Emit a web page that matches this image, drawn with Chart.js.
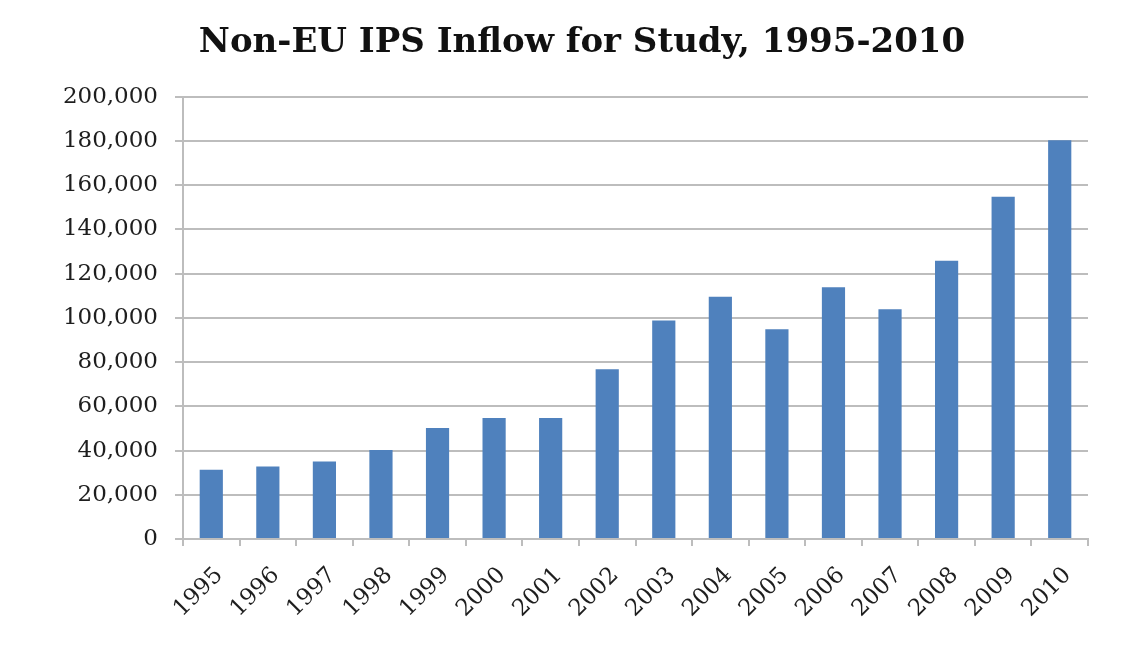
<!DOCTYPE html>
<html>
<head>
<meta charset="utf-8">
<script src="https://cdn.jsdelivr.net/npm/chart.js@4"></script>
<style>
  html, body { margin: 0; padding: 0; background: #fff; }
  #wrap { width: 1144px; height: 672px; }
</style>
</head>
<body>
<div id="wrap"><canvas id="chart"></canvas></div>
<script>
const years = ['1995', '1996', '1997', '1998', '1999', '2000', '2001', '2002',
  '2003', '2004', '2005', '2006', '2007', '2008', '2009', '2010']
const inflow = [31300, 32800, 35100, 40300, 50200, 54700, 54700, 76800,
  98800, 109600, 94900, 113900, 103900, 125900, 154800, 180400]
const yMax = 200000
const yStep = 20000

const BAR_COLOR = '#4F81BD'
const GRID_COLOR = '#BDBDBD'
const TEXT_COLOR = '#1e1e1e'
const FONT = '"DejaVu Serif", serif'

// the original title sits a little right of the canvas centre
const titleShift = {
  id: 'titleShift',
  afterLayout(chart) {
    const t = chart.titleBlock
    if (!t) return
    t.left += 38
    t.right += 38
  }
}

new Chart(document.getElementById('chart'), {
  type: 'bar',
  plugins: [titleShift],
  data: {
    labels: years,
    datasets: [
      {
        data: inflow,
        backgroundColor: BAR_COLOR,
        borderWidth: 0,
        barPercentage: 0.41,
        categoryPercentage: 1
      }
    ]
  },
  options: {
    responsive: true,
    maintainAspectRatio: false,
    animation: false,
    layout: {
      padding: { left: 0, right: 56, top: 0, bottom: 0 }
    },
    plugins: {
      legend: { display: false },
      tooltip: { enabled: false },
      title: {
        display: true,
        text: 'Non-EU IPS Inflow for Study, 1995-2010',
        color: '#111',
        font: { family: FONT, size: 34, weight: 'bold' },
        padding: { top: 23, bottom: 33 }
      }
    },
    scales: {
      x: {
        afterFit: (scale) => { scale.height = 133 },
        border: { display: true, color: GRID_COLOR, width: 2 },
        grid: {
          display: true,
          drawOnChartArea: false,
          drawTicks: true,
          tickLength: 7,
          color: GRID_COLOR,
          lineWidth: 2,
          offset: true
        },
        ticks: {
          color: TEXT_COLOR,
          font: { family: FONT, size: 23 },
          minRotation: 45,
          maxRotation: 45,
          autoSkip: false,
          padding: 16,
          labelOffset: 8
        }
      },
      y: {
        min: 0,
        max: yMax,
        afterFit: (scale) => { scale.width = 183 },
        border: { display: true, color: GRID_COLOR, width: 2 },
        grid: {
          color: GRID_COLOR,
          lineWidth: 2,
          tickLength: 8
        },
        ticks: {
          stepSize: yStep,
          color: TEXT_COLOR,
          font: { family: FONT, size: 23 },
          padding: 17,
          callback: (v) => v.toLocaleString('en-US')
        }
      }
    }
  }
})
</script>
</body>
</html>
